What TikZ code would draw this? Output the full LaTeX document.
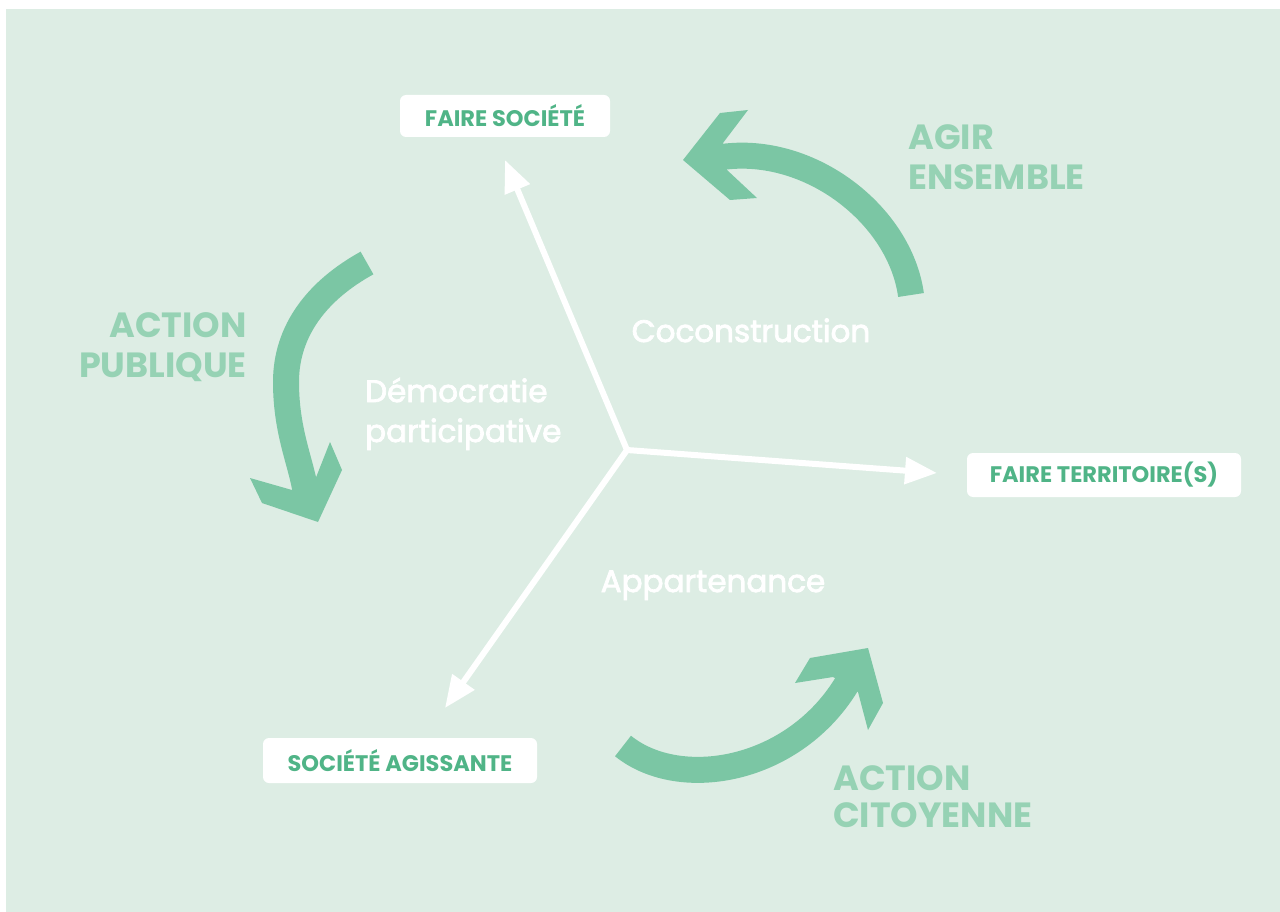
\documentclass[tikz,border=0pt]{standalone}
\usepackage{fontspec}
\setmainfont{Poppins}
\newfontfamily\secfont{Poppins}[FakeBold=2.5]
\usetikzlibrary{arrows.meta}
\definecolor{bg}{RGB}{221,237,228}
\definecolor{arrowg}{RGB}{123,198,164}
\definecolor{labelg}{RGB}{80,180,135}
\definecolor{bigg}{RGB}{150,210,180}
\begin{document}
\begin{tikzpicture}[x=1pt,y=-1pt,
  tag/.style={fill=white, rounded corners=6pt, text=labelg, font=\bfseries\fontsize{22.5}{22.5}\selectfont, inner sep=0pt},
  big/.style={text=bigg, font=\bfseries\fontsize{35}{35}\selectfont, inner sep=0pt},
  sector/.style={text=white, font=\secfont\fontsize{31}{31}\selectfont, inner sep=0pt},
  spoke/.style={draw=white, line width=6pt, -{Triangle[length=32pt,width=26pt]}},
  bigarrow/.style={draw=arrowg, line width=26pt},
  head/.style={fill=arrowg}]
\useasboundingbox (0,0) rectangle (1280,912);
\fill[white] (0,0) rectangle (1280,912);
\fill[bg] (6,9) rectangle (1280,912);

% tags
\node[tag, minimum width=210pt, minimum height=42pt] (fs) at (505,116) {FAIRE SOCIÉTÉ};
\node[tag, minimum width=274pt, minimum height=44pt] (ft) at (1104,475) {FAIRE TERRITOIRE(S)};
\node[tag, minimum width=274pt, minimum height=45pt] (sa) at (400,760.5) {SOCIÉTÉ AGISSANTE};

% spokes
\coordinate (c) at (627,450);
\coordinate (t1) at (505,160);
\coordinate (t2) at (937,473);
\coordinate (t3) at (445,708);
\draw[spoke] (c) -- (t1);
\draw[spoke] (c) -- (t2);
\draw[spoke] (c) -- (t3);

% big curved arrows
\coordinate (a1s) at (911,295);
\coordinate (a1e) at (722,157);
\draw[bigarrow] (a1s) .. controls (900,215) and (810,145) .. (a1e);
\fill[head] (683,160) -- (720,113) -- (748,110) -- (723,143) -- (727,170) -- (757,198) -- (730,200) -- cycle;

\coordinate (a2s) at (367,263);
\coordinate (a2m) at (286,382);
\coordinate (a2e) at (305,488);
\draw[bigarrow] (a2s) .. controls (318,290) and (286,330) .. (a2m) .. controls (286,430) and (300,460) .. (a2e);
\fill[head] (318,522) -- (262,503) -- (250,478) -- (292,490) -- (315,480) -- (330,442) -- (342,470) -- cycle;

\coordinate (a3s) at (623,746);
\coordinate (a3e) at (848,682);
\draw[bigarrow] (a3s) .. controls (680,792) and (795,772) .. (a3e);
\fill[head] (868,648) -- (810,658) -- (795,683) -- (833,677) -- (858,692) -- (868,730) -- (883,703) -- cycle;

% big labels
\node[big, anchor=base west] (ag1) at (908,150) {AGIR};
\node[big, anchor=base west] (ag2) at (908,190) {ENSEMBLE};
\node[big, anchor=base east] (ap1) at (247,337) {ACTION};
\node[big, anchor=base east] (ap2) at (247,377) {PUBLIQUE};
\node[big, anchor=base west] (ac1) at (833,790) {ACTION};
\node[big, anchor=base west] (ac2) at (833,827) {CITOYENNE};

% sector labels
\node[sector, anchor=base] (co) at (751,342) {Coconstruction};
\node[sector, anchor=base west] (de1) at (365,402) {Démocratie};
\node[sector, anchor=base west] (de2) at (365,442) {participative};
\node[sector, anchor=base] (apn) at (713,592) {Appartenance};
\end{tikzpicture}
\end{document}
